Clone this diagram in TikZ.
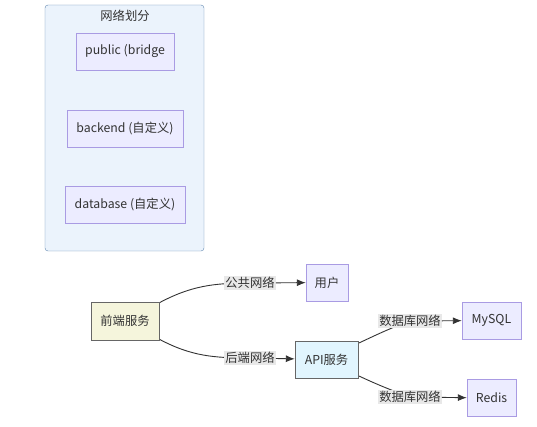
\documentclass[tikz,border=0pt]{standalone}
\usepackage{fontspec}
\setmainfont{Noto Sans CJK SC}
\usetikzlibrary{arrows.meta,backgrounds}
\definecolor{clusterfill}{HTML}{EBF3FC}
\definecolor{clusterline}{HTML}{5F86AD}
\definecolor{netfill}{HTML}{ECECFF}
\definecolor{netline}{HTML}{A99BE3}
\definecolor{frontfill}{HTML}{F5F5DC}
\definecolor{apifill}{HTML}{E1F5FE}
\definecolor{darkline}{HTML}{666666}
\definecolor{edgeline}{HTML}{333333}
\definecolor{labelfill}{HTML}{E8E8E8}
\begin{document}
\begin{tikzpicture}[x=1pt,y=-1pt,>={Latex[length=9pt,width=7pt]},
    font=\fontsize{12.3}{14}\selectfont, text=edgeline,
    netbox/.style={draw=netline, fill=netfill, minimum height=37pt, inner sep=0pt},
    frontbox/.style={draw=darkline, fill=frontfill, minimum height=38pt, inner sep=0pt},
    apibox/.style={draw=darkline, fill=apifill, minimum height=37pt, inner sep=0pt},
    edgelabel/.style={fill=labelfill, inner sep=1pt},
    link/.style={draw=edgeline, line width=0.9pt}]
    \useasboundingbox (0,0) rectangle (537,427);
    % network cluster
    \draw[clusterline, fill=clusterfill, rounded corners=3pt] (45,5) rectangle (204,251);
    \node (nettitle) at (125,16) {网络划分};
    \node[netbox, minimum width=98pt] (public) at (125,51.5) {public (bridge};
    \node[netbox, minimum width=116pt] (backend) at (125,128.5) {backend (自定义)};
    \node[netbox, minimum width=120pt] (database) at (125,204.5) {database (自定义)};
    % services
    \node[frontbox, minimum width=68pt] (front) at (125,321) {前端服务};
    \node[netbox, minimum width=42pt] (user) at (327,282.5) {用户};
    \node[apibox, minimum width=63pt] (api) at (326.5,359.5) {API服务};
    \node[netbox, minimum width=59pt] (mysql) at (491.5,320.5) {MySQL};
    \node[netbox, minimum width=49pt] (redis) at (491.5,398) {Redis};
    % edge labels
    \node[edgelabel] (pubnet) at (250,283) {公共网络};
    \node[edgelabel] (backnet) at (250,358) {后端网络};
    \node[edgelabel] (dbnet1) at (410,321) {数据库网络};
    \node[edgelabel] (dbnet2) at (410,397) {数据库网络};
    \begin{pgfonlayer}{background}
        \draw[link] (front.28) to[out=28,in=180] (pubnet.center);
        \draw[link] (front.-28) to[out=-28,in=180] (backnet.center);
        \draw[link] (api.27) to[out=25,in=200] (dbnet1.center);
        \draw[link] (api.-27) to[out=-25,in=160] (dbnet2.center);
    \end{pgfonlayer}
    \draw[link, ->] (pubnet) -- (user);
    \draw[link, ->] (backnet) -- (api);
    \draw[link, ->] (dbnet1) -- (mysql);
    \draw[link, ->] (dbnet2) -- (redis);
\end{tikzpicture}
\end{document}
